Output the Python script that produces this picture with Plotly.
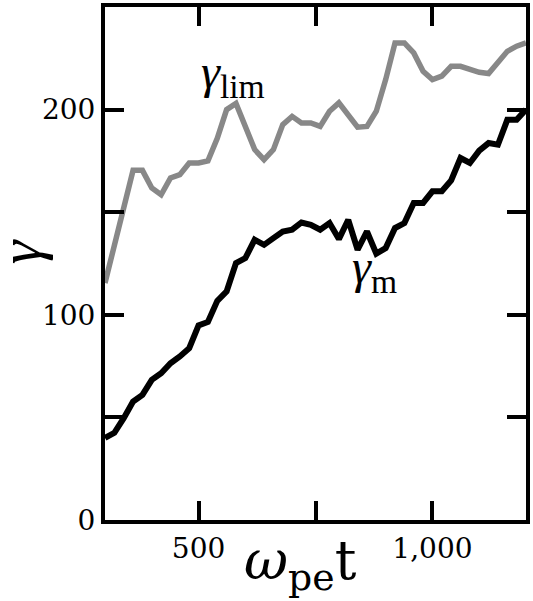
import plotly.graph_objects as go

t_vals = list(range(300, 1201, 20))

gamma_m = [40, 42.5, 49.6, 57.7, 61, 68.3, 71.5, 76.4, 79.7, 83.7,
           94.8, 96.5, 106.8, 111.4, 125.2, 127.6, 136.6, 134.1, 137.4, 140.6,
           141.5, 145, 143.9, 141.5, 144.7, 136.9, 146.3, 131.7, 140.6, 129.8,
           132.5, 142.3, 144.7, 154.5, 154.5, 160.2, 160.2, 165.5, 176.4, 174,
           180, 183.7, 182.9, 195, 195, 200]

gamma_lim = [115.5, 134, 153, 170.4, 170.4, 161.8, 158.5, 166.7, 168.3, 174,
             174, 175, 186, 200, 203, 191.8, 180.5, 175.6, 180.5, 192.7,
             196.7, 193.5, 193.5, 191.8, 199.2, 203.3, 197.6, 191.4, 191.8, 199.2,
             214.6, 232.5, 232.5, 227.6, 218.7, 214.6, 216.3, 221.1, 221.1, 219.5,
             218.2, 217.6, 222.8, 228.4, 230.9, 232.5]

x_tickvals = [500, 750, 1000]
x_ticktext = ["500", "", "1,000"]
y_tickvals = [0, 50, 100, 150, 200, 250]
y_ticktext = ["0", "", "100", "", "200", ""]

FONT = "DejaVu Serif"
GFONT = "Liberation Serif"

fig = go.Figure()
fig.add_trace(go.Scatter(x=t_vals, y=gamma_lim, mode="lines",
                         line=dict(color="#888888", width=5.5), showlegend=False))
fig.add_trace(go.Scatter(x=t_vals, y=gamma_m, mode="lines",
                         line=dict(color="black", width=6), showlegend=False))

axis_common = dict(showline=True, linecolor="black", linewidth=4, mirror="ticks",
                   ticks="inside", ticklen=19, tickwidth=4, tickcolor="black",
                   showgrid=False, zeroline=False,
                   tickfont=dict(family=FONT, size=28, color="black"))

fig.update_xaxes(range=[300, 1200], tickmode="array", tickvals=x_tickvals,
                 ticktext=x_ticktext, **axis_common)
fig.update_yaxes(range=[0, 250], tickmode="array", tickvals=y_tickvals,
                 ticktext=y_ticktext, **axis_common)

fig.add_annotation(x=574, y=217, xref="x", yref="y", showarrow=False,
                   xanchor="center", yanchor="middle",
                   text="<i>γ</i><sub>lim</sub>",
                   font=dict(family=GFONT, size=48, color="black"))
fig.add_annotation(x=876, y=122, xref="x", yref="y", showarrow=False,
                   xanchor="center", yanchor="middle",
                   text="<i>γ</i><sub>m</sub>",
                   font=dict(family=GFONT, size=48, color="black"))

pw = 533 - 105 - 3
ph = 601 - 6 - 81
# axis titles placed in pixel terms converted to paper coords
fig.add_annotation(x=(302 - 105) / pw, y=(601 - 81 - 564) / ph,
                   xref="paper", yref="paper", showarrow=False,
                   xanchor="center", yanchor="middle",
                   text="<i>ω</i><sub>pe</sub>t",
                   font=dict(family=FONT, size=54, color="black"))
fig.add_annotation(x=(19 - 105) / pw, y=(601 - 81 - 251) / ph,
                   xref="paper", yref="paper", showarrow=False,
                   xanchor="center", yanchor="middle", textangle=-90,
                   text="<i>γ</i>",
                   font=dict(family=GFONT, size=60, color="black"))

fig.update_layout(width=533, height=601, margin=dict(l=105, r=3, t=6, b=81),
                  plot_bgcolor="white", paper_bgcolor="white")

fig.write_html("out.html")
